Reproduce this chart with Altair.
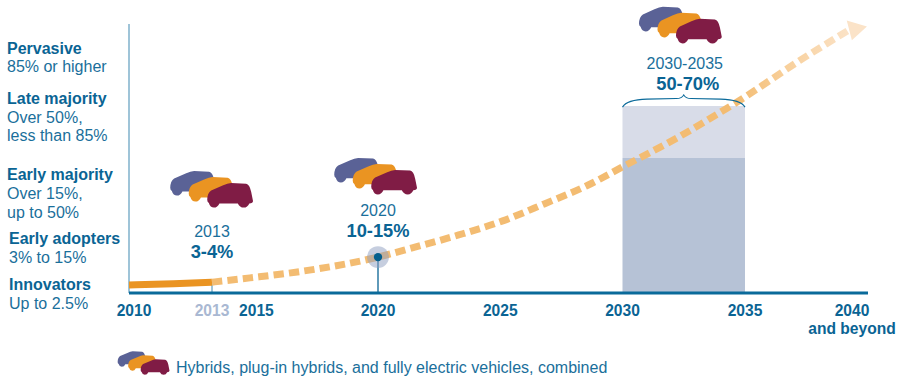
import altair as alt
import pandas as pd

# Adoption curve: share of new vehicles by year
solid_years = [2010, 2011.6, 2013]
solid_share = [3.0, 3.4, 4.0]
dashed_years = [2013, 2014.6, 2016.6, 2020, 2021.4, 2023.3, 2025.1, 2026.8, 2028.6,
                2030, 2032.3, 2033.4, 2035, 2036.1, 2037.2, 2038.3, 2039.3]
dashed_share = [4.0, 5.6, 7.8, 13.3, 16.7, 21.5, 26.7, 33.0, 40.0,
                46.7, 58.1, 64.2, 73.3, 79.9, 86.5, 92.7, 98.2]

# 2030-2035 range of estimates
band_starts = [0, 50]
band_ends = [50, 70]
band_colors = ["#B6C2D6", "#D8DCE8"]

tick_years = [2010, 2013, 2015, 2020, 2025, 2030, 2035, 2040]
tick_labels = ["2010", "2013", "2015", "2020", "2025", "2030", "2035", "2040"]

callout_years = [2013, 2020, 2032.5]
callout_share = [4.0, 13.3, 70]
callout_titles = ["2013", "2020", "2030-2035"]
callout_values = ["3-4%", "10-15%", "50-70%"]

stage_lines = [
    ("Pervasive", True), ("85% or higher", False),
    ("Late majority", True), ("Over 50%,", False), ("less than 85%", False),
    ("Early majority", True), ("Over 15%,", False), ("up to 50%", False),
    ("Early adopters", True), ("3% to 15%", False),
    ("Innovators", True), ("Up to 2.5%", False),
]
legend_text = "Hybrids, plug-in hybrids, and fully electric vehicles, combined"

# Placement of the annotations, in pixels
stage_x = [7, 7, 7, 7, 7, 7, 7, 7, 9, 9, 9, 9]
stage_y = [54, 72, 104, 123, 141, 180, 199, 218, 244, 263, 290, 309]
tick_dx = [5, 0, -3, 0, 0, 0, 0, -16]
callout_car_offset = [(18, -87), (16, -75), (15, -75)]
callout_title_dy = [-45, -41, -37]
callout_value_dy = [-24, -20, -16]
callout_title_dx = [0, 0, 1]
callout_value_dx = [0, 0, 4]

FONT = "Liberation Sans"
BOLD_BLUE = "#0A6494"
TEXT_BLUE = "#1A6F9B"
AXIS_BLUE = "#0A6A9A"
PALE_AXIS = "#7FB0CB"
CAR_COLORS = ["#5A6296", "#EA9422", "#801C45"]

# Hatchback silhouette in symbol units
CAR = ("M-0.99 0.2 Q-0.98 -0.1 -0.82 -0.2 L-0.32 -0.42 Q-0.1 -0.52 0.05 -0.53 "
       "L0.7 -0.5 Q0.85 -0.48 0.92 -0.15 L1 0.25 Q1 0.34 0.84 0.36 "
       "Q0.76 0.54 0.6 0.54 Q0.42 0.54 0.34 0.36 L-0.46 0.36 Q-0.54 0.54 -0.7 0.54 "
       "Q-0.86 0.54 -0.92 0.34 Q-0.99 0.3 -0.99 0.2 Z")
BRACE = ("M-1 0.1 Q-0.93 -0.02 -0.6 -0.03 L-0.12 -0.04 Q-0.03 -0.04 0 -0.1 "
         "Q0.03 -0.04 0.12 -0.04 L0.6 -0.03 Q0.93 -0.02 1 0.1")
ARROW = "M0.97 -0.33 L-1 -0.93 L-0.5 1 Z"

x_scale = alt.Scale(domain=[2010, 2013, 2020, 2030, 2035, 2040],
                    range=[129, 212, 378, 622.5, 745, 868])
y_scale = alt.Scale(domain=[0, 50, 70, 100], range=[293, 158, 106, 24])


def X(field="year"):
    return alt.X(f"{field}:Q", scale=x_scale, axis=None)


def Y(field="share"):
    return alt.Y(f"{field}:Q", scale=y_scale, axis=None)


def table(year, share):
    return pd.DataFrame({"year": year, "share": share})


layers = []

# Stacked range bands
for lo, hi, fill in zip(band_starts, band_ends, band_colors):
    band = pd.DataFrame({"a": [2030], "b": [2035], "lo": [lo], "hi": [hi]})
    layers.append(alt.Chart(band).mark_rect(color=fill, opacity=1).encode(
        x=X("a"), x2="b:Q", y=Y("lo"), y2="hi:Q"))

# Axes as drawn lines
layers.append(alt.Chart(pd.DataFrame({"year": [2010], "lo": [0], "hi": [100]}))
              .mark_rule(color=PALE_AXIS, strokeWidth=1.5)
              .encode(x=X(), y=Y("lo"), y2="hi:Q"))
layers.append(alt.Chart(pd.DataFrame({"year": [2013], "lo": [0], "hi": [solid_share[-1]]}))
              .mark_rule(color=PALE_AXIS, strokeWidth=1.5)
              .encode(x=X(), y=Y("lo"), y2="hi:Q"))
layers.append(alt.Chart(pd.DataFrame({"year": [2020], "lo": [0], "hi": [callout_share[1]]}))
              .mark_rule(color=BOLD_BLUE, strokeWidth=1.3)
              .encode(x=X(), y=Y("lo"), y2="hi:Q"))

# Curve: solid to date, dashed projection fading out toward the end
layers.append(alt.Chart(table(solid_years, solid_share))
              .mark_line(color="#EA9422", strokeWidth=7, interpolate="monotone")
              .encode(x=X(), y=Y()))
fade = alt.Gradient(gradient="linear", x1=0, x2=1, y1=0, y2=0, stops=[
    alt.GradientStop(color="#F3BC72", offset=0),
    alt.GradientStop(color="#F3BC72", offset=0.82),
    alt.GradientStop(color="#F8D09C", offset=0.9),
    alt.GradientStop(color="#FBE3C8", offset=1),
])
layers.append(alt.Chart(table(dashed_years, dashed_share))
              .mark_line(color=fade, strokeWidth=7, strokeDash=[10.3, 5.2],
                         interpolate="monotone")
              .encode(x=X(), y=Y()))
layers.append(alt.Chart(table([2040], [100]))
              .mark_point(shape=ARROW, filled=True, size=420, color="#FBE3C8", opacity=1,
                          xOffset=-11, yOffset=6)
              .encode(x=X(), y=Y()))

layers.append(alt.Chart(pd.DataFrame({"year": [2010], "end": [2040], "share": [0]}))
              .mark_rule(color=AXIS_BLUE, strokeWidth=3.2)
              .encode(x=X(), x2="end:Q", y=Y()))

# 2020 marker
marker = table([2020], [callout_share[1]])
layers.append(alt.Chart(marker).mark_point(filled=True, size=480, color="#8E9DBF", opacity=0.5)
              .encode(x=X(), y=Y()))
layers.append(alt.Chart(marker).mark_point(filled=True, size=70, color="#045F8D", opacity=1)
              .encode(x=X(), y=Y()))

# Brace over the 2030-2035 range
layers.append(alt.Chart(table([2032.5], [70]))
              .mark_point(shape=BRACE, filled=False, size=122.5 ** 2, color=AXIS_BLUE,
                          strokeWidth=1.1, opacity=1, yOffset=-5)
              .encode(x=X(), y=Y()))

# Year labels under the axis
for yr, lab, dx in zip(tick_years, tick_labels, tick_dx):
    color = "#A9B8D2" if lab == "2013" else BOLD_BLUE
    layers.append(alt.Chart(pd.DataFrame({"year": [yr], "t": [lab]}))
                  .mark_text(font=FONT, fontSize=15.6, fontWeight="bold", color=color,
                             baseline="alphabetic", align="center", dx=dx)
                  .encode(x=X(), y=alt.value(316), text="t:N"))
layers.append(alt.Chart(pd.DataFrame({"year": [2040], "t": ["and beyond"]}))
              .mark_text(font=FONT, fontSize=15.6, fontWeight="bold", color=BOLD_BLUE,
                         baseline="alphabetic", align="center", dx=-16)
              .encode(x=X(), y=alt.value(334), text="t:N"))

# Callouts: cars, period and share
for i, (yr, sh) in enumerate(zip(callout_years, callout_share)):
    row = pd.DataFrame({"year": [yr], "share": [sh],
                        "title": [callout_titles[i]], "value": [callout_values[i]]})
    dx, dy = callout_car_offset[i]
    for color, step in zip(CAR_COLORS, [2, 1, 0]):
        layers.append(alt.Chart(row)
                      .mark_point(shape=CAR, filled=True, size=46 ** 2, color=color, opacity=1,
                                  xOffset=dx - step * 18.5, yOffset=dy - step * 6)
                      .encode(x=X(), y=Y()))
    layers.append(alt.Chart(row)
                  .mark_text(font=FONT, fontSize=16, color=TEXT_BLUE, baseline="alphabetic",
                             align="center", dy=callout_title_dy[i], dx=callout_title_dx[i])
                  .encode(x=X(), y=Y(), text="title:N"))
    layers.append(alt.Chart(row)
                  .mark_text(font=FONT, fontSize=18.3, fontWeight="bold", color=BOLD_BLUE,
                             baseline="alphabetic", align="center",
                             dy=callout_value_dy[i], dx=callout_value_dx[i])
                  .encode(x=X(), y=Y(), text="value:N"))

# Adoption stage descriptions on the left
for (line, bold), sx, sy in zip(stage_lines, stage_x, stage_y):
    layers.append(alt.Chart(pd.DataFrame({"t": [line]}))
                  .mark_text(font=FONT, fontSize=16, fontWeight="bold" if bold else "normal",
                             color=BOLD_BLUE if bold else TEXT_BLUE,
                             baseline="alphabetic", align="left")
                  .encode(x=alt.value(sx), y=alt.value(sy), text="t:N"))

# Legend row
for color, lx, ly in zip(CAR_COLORS, [132, 142.5, 155], [359, 363, 367]):
    layers.append(alt.Chart(pd.DataFrame({"k": [0]}))
                  .mark_point(shape=CAR, filled=True, size=29 ** 2, color=color, opacity=1)
                  .encode(x=alt.value(lx), y=alt.value(ly)))
layers.append(alt.Chart(pd.DataFrame({"t": [legend_text]}))
              .mark_text(font=FONT, fontSize=16, color=TEXT_BLUE, baseline="alphabetic", align="left")
              .encode(x=alt.value(176), y=alt.value(373), text="t:N"))

chart = alt.layer(*layers).properties(
    width=897, height=377,
    autosize=alt.AutoSizeParams(type="none"),
    padding=0,
    background="white",
).configure_view(stroke=None)

chart.save("out.html", embed_options={"renderer": "svg", "actions": False})
